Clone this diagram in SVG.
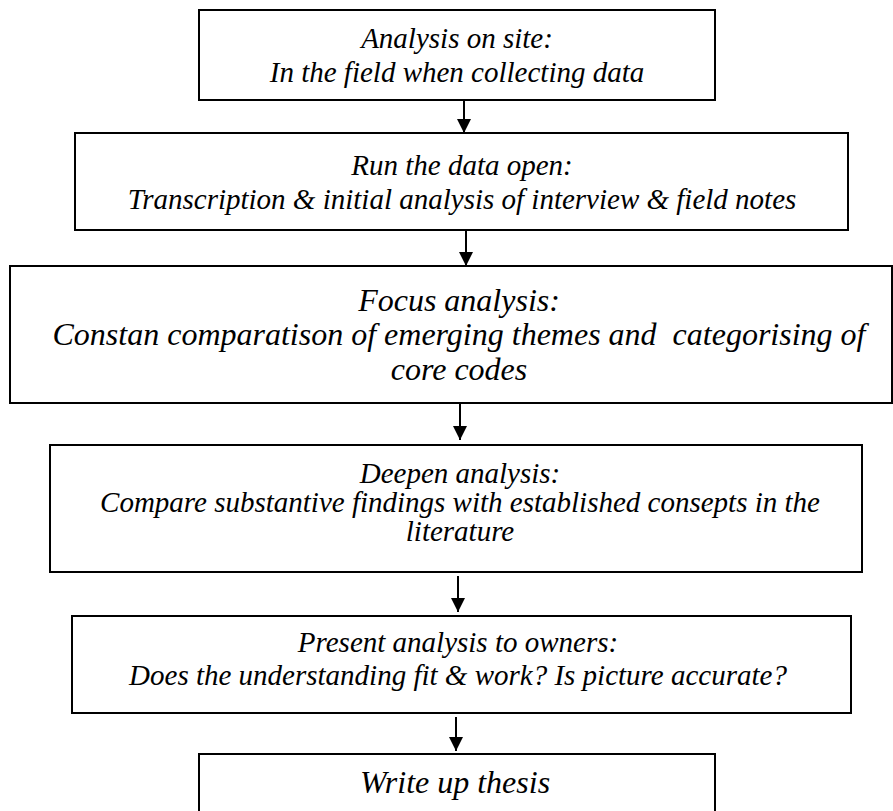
<svg xmlns="http://www.w3.org/2000/svg" width="893" height="811" viewBox="0 0 893 811">
<defs>
<style>
.box{fill:#fff;stroke:#000;stroke-width:2}
.t{font-family:"Liberation Serif","Times New Roman",serif;font-style:italic;fill:#000;text-anchor:middle}
.s29{font-size:29px}
.s32{font-size:32px}
.c{stroke:#000;stroke-width:2;fill:none;marker-end:url(#ah)}
</style>
<marker id="ah" markerUnits="userSpaceOnUse" markerWidth="16" markerHeight="14" refX="14" refY="7" orient="auto">
<path d="M0,0 L14,7 L0,14 Z" fill="#000"/>
</marker>
</defs>
<g id="connectors">
<line class="c" x1="464" y1="100" x2="464" y2="133"/>
<line class="c" x1="466" y1="230" x2="466" y2="266"/>
<line class="c" x1="460" y1="403" x2="460" y2="440"/>
<line class="c" x1="458" y1="576" x2="458" y2="612"/>
<line class="c" x1="456" y1="717" x2="456" y2="751"/>
</g>
<g id="n1">
<rect class="box" x="199" y="10" width="516" height="90"/>
<text class="t s29" x="457" y="48">Analysis on site:</text>
<text class="t s29" x="457" y="82">In the field when collecting data</text>
</g>
<g id="n2">
<rect class="box" x="75" y="133" width="773" height="97"/>
<text class="t s29" x="462" y="175">Run the data open:</text>
<text class="t s29" x="462" y="209">Transcription &amp; initial analysis of interview &amp; field notes</text>
</g>
<g id="n3">
<rect class="box" x="10" y="266" width="882" height="137"/>
<text class="t s32" x="459" y="311">Focus analysis:</text>
<text class="t s32" x="459" y="345" xml:space="preserve">Constan comparatison of emerging themes and  categorising of</text>
<text class="t s32" x="459" y="380">core codes</text>
</g>
<g id="n4">
<rect class="box" x="50" y="445" width="812" height="127"/>
<text class="t s29" x="460" y="483">Deepen analysis:</text>
<text class="t s29" x="460" y="512">Compare substantive findings with established consepts in the</text>
<text class="t s29" x="460" y="541">literature</text>
</g>
<g id="n5">
<rect class="box" x="72" y="616" width="779" height="97"/>
<text class="t s29" x="458" y="652">Present analysis to owners:</text>
<text class="t s29" x="458" y="685">Does the understanding fit &amp; work? Is picture accurate?</text>
</g>
<g id="n6">
<rect class="box" x="199" y="754" width="516" height="70"/>
<text class="t s32" x="455" y="793">Write up thesis</text>
</g>
</svg>
